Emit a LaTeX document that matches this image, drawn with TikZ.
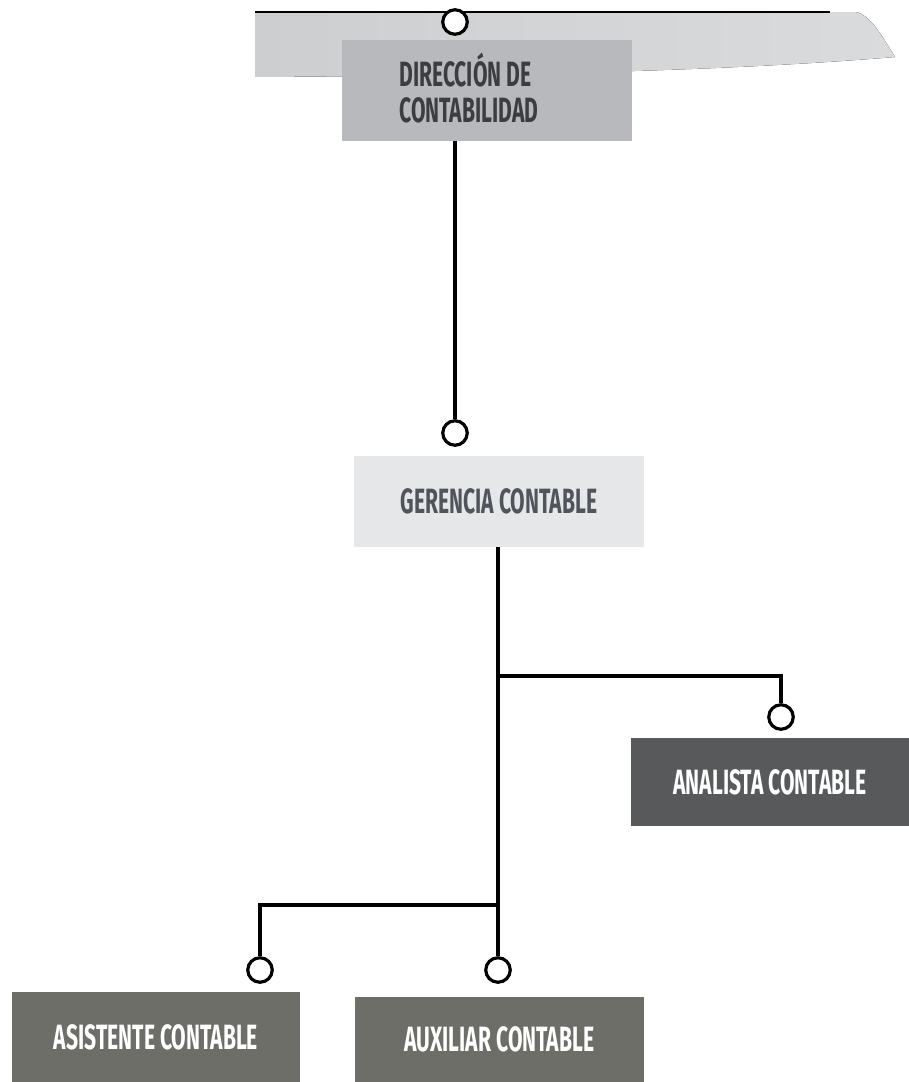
\documentclass[tikz,border=0pt]{standalone}
\usepackage{fontspec}
\newfontfamily\orgfont[FakeStretch=0.6]{Fira Sans}
\usetikzlibrary{positioning}

\definecolor{bannerL}{HTML}{CDCED0}
\definecolor{bannerR}{HTML}{DADBDD}
\definecolor{dirfill}{HTML}{B8B9BC}
\definecolor{gerfill}{HTML}{E6E7E8}
\definecolor{anafill}{HTML}{58595B}
\definecolor{auxfill}{HTML}{6D6E68}
\definecolor{darktext}{HTML}{3C3D40}
\definecolor{midtext}{HTML}{50555D}

\tikzset{
	orgbox/.style={inner sep=0pt, font=\orgfont\bfseries\fontsize{20}{21}\selectfont},
	ring/.style={circle, draw=black, fill=white, line width=1.8pt, minimum size=0.49cm, inner sep=0pt},
	link/.style={line width=1.8pt, black}
}

\begin{document}
\begin{tikzpicture}[x=0.02cm, y=-0.02cm]
		
		\useasboundingbox (0,0) rectangle (909,1082);
		
		% banner at the top
		\fill[left color=bannerL, right color=bannerR]
		(255,12) -- (855,12) .. controls (870,14) and (882,36) .. (895,57)
		.. controls (760,68) and (600,75) .. (255,77) -- cycle;
		\draw[line width=0.8pt] (255,12) -- (830,12);
		
		% boxes
		\node[orgbox, fill=dirfill, minimum width=5.8cm, minimum height=2.02cm] (dir) at (487,90.5) {};
		\node[orgbox, text=darktext, anchor=west, align=left] (dirtxt) at (399,88) {DIRECCIÓN DE\\CONTABILIDAD};
		\node[orgbox, fill=gerfill, text=midtext, minimum width=5.8cm, minimum height=1.82cm] (ger) at (499,501.5) {GERENCIA CONTABLE};
		\node[orgbox, fill=anafill, text=white, minimum width=5.56cm, minimum height=1.76cm] (ana) at (770,782) {ANALISTA CONTABLE};
		\node[orgbox, fill=auxfill, text=white, minimum width=5.76cm, minimum height=1.8cm] (asi) at (156,1037) {ASISTENTE CONTABLE};
		\node[orgbox, fill=auxfill, text=white, minimum width=5.78cm, minimum height=1.7cm] (aux) at (499.5,1039.5) {AUXILIAR CONTABLE};
		
		% rings
		\node[ring] (r0) at (455,22) {};
		\node[ring] (r1) at (455,433) {};
		\node[ring] (r2) at (781,717) {};
		\node[ring] (r3) at (260,970) {};
		\node[ring] (r4) at (498,970) {};
		
		% forks
		\coordinate (fork1) at (498,676);
		\coordinate (fork2) at (498,905);
		
		% connectors
		\draw[link] (dir.south -| r1) -- (r1.north);
		\draw[link] (ger.south -| r4) -- (r4.north);
		\draw[link] (fork1) -| (r2.north);
		\draw[link] (fork2) -| (r3.north);
		
	\end{tikzpicture}
\end{document}
